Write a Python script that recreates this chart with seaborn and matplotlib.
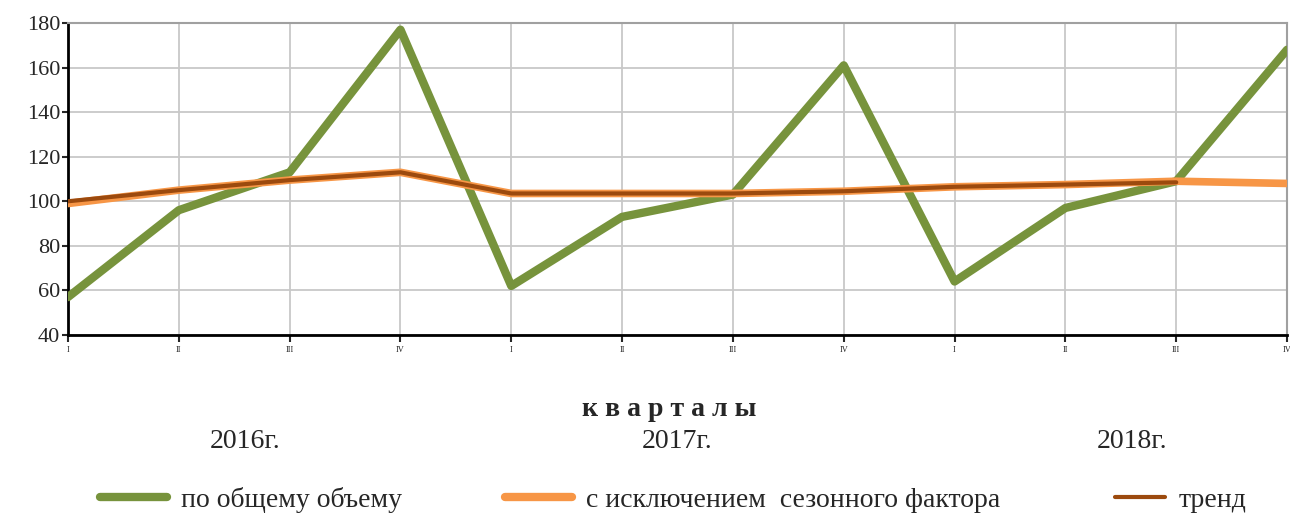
import matplotlib
matplotlib.use("Agg")
import matplotlib.pyplot as plt
from matplotlib.lines import Line2D
import seaborn as sns
import pandas as pd
import numpy as np

# Quarterly index values, 2016 Q1 .. 2018 Q4
quarters = ["I", "II", "III", "IV", "I", "II", "III", "IV", "I", "II", "III", "IV"]
years = ["2016г.", "2017г.", "2018г."]
total_volume = [57, 96, 113, 177, 62, 93, 103, 161, 64, 97, 109, 168]
seasonally_adjusted = [99, 105, 109.5, 113, 103.5, 103.5, 103.5, 104.5, 106.5, 107.5, 109, 108]
trend = [100, 105, 109.5, 113, 103.5, 103.5, 103.5, 104.5, 106.5, 107.5, 108.5]

labels = ["по общему объему", "с исключением  сезонного фактора", "тренд"]
colors = ["#77933C", "#F79646", "#9C4A0E"]

sns.set_style("white")
plt.rcParams["font.family"] = ["Liberation Serif", "DejaVu Serif"]

fig = plt.figure(figsize=(12.9, 5.18), dpi=100)
ax = fig.add_axes([0.0527, 0.3533, 0.9450, 0.6023])

df = pd.DataFrame({"idx": np.arange(len(quarters)), "value": total_volume})
sns.lineplot(data=df, x="idx", y="value", ax=ax, color=colors[0], lw=6, zorder=3)
df2 = pd.DataFrame({"idx": np.arange(len(seasonally_adjusted)), "value": seasonally_adjusted})
sns.lineplot(data=df2, x="idx", y="value", ax=ax, color=colors[1], lw=5.5, zorder=4)
df3 = pd.DataFrame({"idx": np.arange(len(trend)), "value": trend})
sns.lineplot(data=df3, x="idx", y="value", ax=ax, color=colors[2], lw=3, zorder=5)

ax.set_xlim(0, len(quarters) - 1)
ax.set_ylim(40, 180)
ax.set_yticks(range(40, 181, 20))
ax.set_xticks(range(len(quarters)))
ax.set_xticklabels(quarters, fontsize=6)
ax.tick_params(axis="y", labelsize=16, length=4.5, width=1.5, direction="out", left=True, pad=1)
ax.tick_params(axis="x", length=5, width=1.5, direction="out", bottom=True, pad=3)
ax.grid(True, color="#c8c8c8", lw=1.3)
ax.set_axisbelow(True)
for side in ["top", "right"]:
    ax.spines[side].set_color("#a0a0a0")
    ax.spines[side].set_linewidth(1.5)
for side in ["left", "bottom"]:
    ax.spines[side].set_color("black")
    ax.spines[side].set_linewidth(2)

ax.set_ylabel("")
ax.set_xlabel("к в а р т а л ы", fontsize=20, fontweight="bold")
ax.xaxis.label.set_va("center")
ax.xaxis.set_label_coords(0.493, -0.24)

trans = matplotlib.transforms.blended_transform_factory(ax.transData, fig.transFigure)
for xpos, yr in zip([1.6, 5.5, 9.6], years):
    ax.text(xpos, 0.148, yr, transform=trans, ha="center", va="center", fontsize=20)

handles = [Line2D([], [], color=colors[0], lw=6, solid_capstyle="round"),
           Line2D([], [], color=colors[1], lw=6, solid_capstyle="round"),
           Line2D([], [], color=colors[2], lw=3, solid_capstyle="round")]
for h, lab, x0, hl in zip(handles, labels, [100, 505, 1115], [2.4, 2.4, 1.8]):
    fig.legend([h], [lab], loc="center left", bbox_to_anchor=(x0 / 1290, 0.035),
               frameon=False, fontsize=20, handlelength=hl, handletextpad=0.5,
               borderpad=0, borderaxespad=0)

fig.savefig("out.png", dpi=100)
